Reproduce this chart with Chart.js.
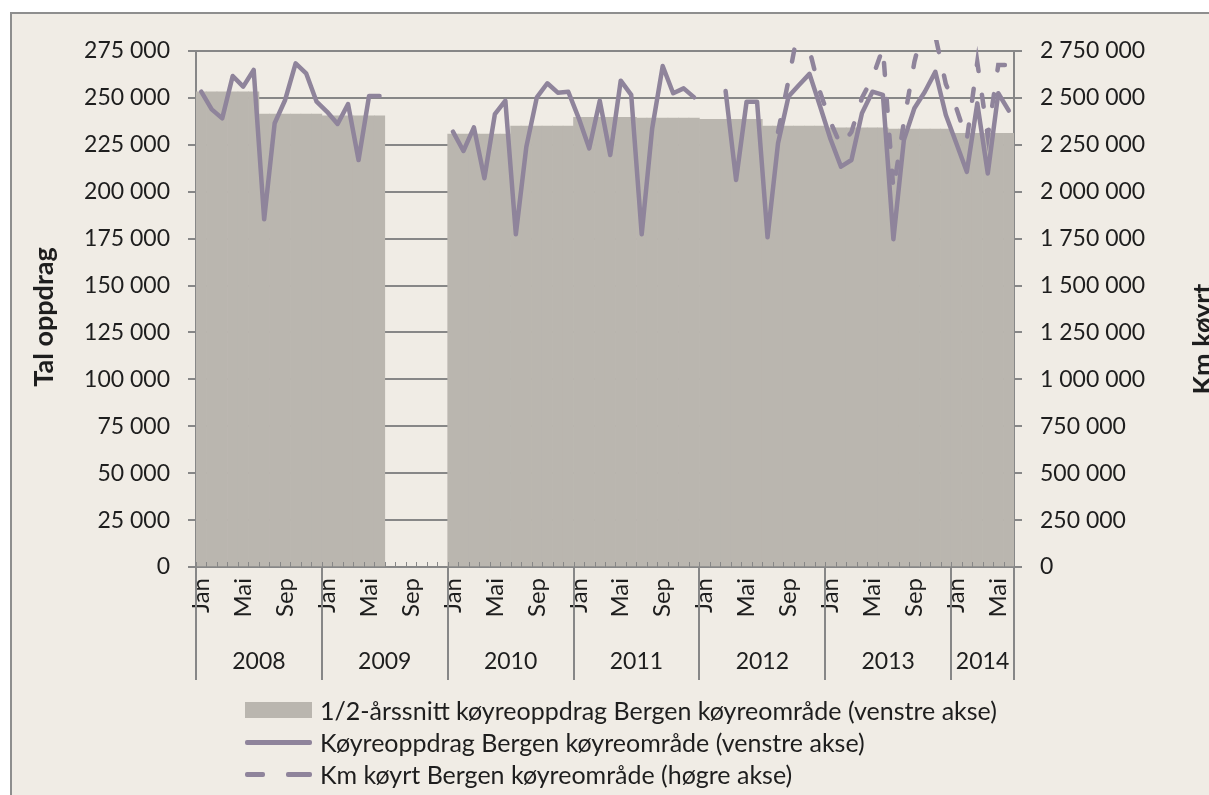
<!DOCTYPE html>
<html>
<head>
<meta charset="utf-8">
<title>Køyreoppdrag Bergen</title>
<script src="https://cdn.jsdelivr.net/npm/chart.js@4.4.1/dist/chart.umd.min.js"></script>
<style>
    html, body { margin: 0; padding: 0; background: #fff; width: 1209px; height: 795px; overflow: hidden; }
    #frame { position: absolute; left: 10px; top: 12px; width: 1300px; height: 900px; background: #f0ece5; border-left: 2px solid #8e8e8e; border-top: 2px solid #8e8e8e; }
    #wrap { position: absolute; left: 0; top: 0; width: 1240px; height: 800px; }
    .axisTitle { position: absolute; width: 180px; height: 32px; line-height: 32px; text-align: center;
        font: bold 27px Lato, sans-serif; color: #1e1e1e; transform: rotate(-90deg); white-space: nowrap; }
    #leftTitle { left: -48px; top: 301px; }
    #rightTitle { left: 1111px; top: 323px; }
    #legend { position: absolute; left: 245px; top: 694px; font: 25px Lato, sans-serif; color: #1e1e1e; }
    #legend .row { display: flex; align-items: center; height: 32px; white-space: nowrap; }
    #legend .sym { width: 67px; margin-right: 8px; display: flex; align-items: center; justify-content: space-between; }
</style>
</head>
<body>
<div id="frame"></div>
<div id="wrap"><canvas id="chart"></canvas></div>
<div id="leftTitle" class="axisTitle">Tal oppdrag</div>
<div id="rightTitle" class="axisTitle">Km køyrt</div>
<div id="legend"></div>

<script>
// Categories
const years = ['2008', '2009', '2010', '2011', '2012', '2013', '2014'];
const monthNames = ['Jan', 'Feb', 'Mar', 'Apr', 'Mai', 'Jun', 'Jul', 'Aug', 'Sep', 'Okt', 'Nov', 'Des'];
const monthsInYear = [12, 12, 12, 12, 12, 12, 6];
const shownMonths = ['Jan', 'Mai', 'Sep'];

// 1/2-årssnitt (same value for every month in the half year)
const halvaarssnitt = [
    253300, 253300, 253300, 253300, 253300, 253300, 241400, 241400, 241400, 241400, 241400, 241400,
    240400, 240400, 240400, 240400, 240400, 240400, null, null, null, null, null, null,
    230700, 230700, 230700, 230700, 230700, 230700, 235000, 235000, 235000, 235000, 235000, 235000,
    239700, 239700, 239700, 239700, 239700, 239700, 239200, 239200, 239200, 239200, 239200, 239200,
    238600, 238600, 238600, 238600, 238600, 238600, 235000, 235000, 235000, 235000, 235000, 235000,
    234000, 234000, 234000, 234000, 234000, 234000, 233400, 233400, 233400, 233400, 233400, 233400,
    231100, 231100, 231100, 231100, 231100, 231100
];

// Køyreoppdrag per månad (venstre akse)
const koyreoppdrag = [
    253300, 243900, 239100, 261700, 256000, 264900, 185300, 236500, 248900, 268400, 263100, 248000,
    242600, 236100, 246700, 216900, 251000, 251000, null, null, null, null, null, null,
    232000, 221700, 234300, 207200, 241400, 248500, 177300, 224000, 250300, 257800, 252800, 253300,
    239100, 223100, 248500, 219600, 259200, 251600, 177300, 233800, 267000, 252500, 255100, 250300,
    null, null, 253700, 206300, 248000, 248000, 175700, 225800, 250700, 256900, 262800, 245700,
    228100, 213400, 216900, 241800, 253300, 251600, 174700, 227500, 244500, 253300, 263900, 240900,
    225800, 210600, 247100, 209700, 252500, 243200
];

// Km køyrt per månad (høgre akse)
const kmKoyrt = [
    null, null, null, null, null, null, null, null, null, null, null, null,
    null, null, null, null, null, null, null, null, null, null, null, null,
    null, null, null, null, null, null, null, null, null, null, null, null,
    null, null, null, null, null, null, null, null, null, null, null, null,
    null, null, null, null, null, null, null, 2318000, 2595000, 2889000, 2755000, 2532000,
    2372000, 2244000, 2318000, 2500000, 2606000, 2766000, 2009000, 2372000, 2691000, 2915000, 2830000, 2574000,
    2446000, 2276000, 2691000, 2297000, 2675000, 2675000
];

const leftMax = 275000;
const leftStep = 25000;
const rightMax = 2750000;
const rightStep = 250000;

const categories = years.flatMap((y, i) => monthNames.slice(0, monthsInYear[i]).map(m => ({ year: y, month: m })));
const labels = categories.map(c => c.month + ' ' + c.year);

const gridColor = '#878787';
const textColor = '#1e1e1e';
const fontFamily = 'Lato, sans-serif';

function fmt(v) {
    return String(v).replace(/\B(?=(\d{3})+(?!\d))/g, ' ');
}

// Year row under the month labels, separators and small month ticks
const yearAxis = {
    id: 'yearAxis',
    afterDatasetsDraw(chart) {
        const { ctx, chartArea } = chart;
        const x = chart.scales.x;
        ctx.save();
        ctx.strokeStyle = gridColor;
        ctx.lineWidth = 1;
        for (let i = 0; i <= categories.length; i++) {
            const px = Math.round(x.getPixelForValue(i - 0.5)) + 0.5;
            ctx.beginPath();
            ctx.moveTo(px, chartArea.bottom);
            ctx.lineTo(px, chartArea.bottom - 5);
            ctx.stroke();
        }
        ctx.restore();
    },
    afterDraw(chart) {
        const { ctx, chartArea } = chart;
        const x = chart.scales.x;
        const bounds = [];
        categories.forEach((c, i) => { if (c.month === monthNames[0]) bounds.push(i); });
        bounds.push(categories.length);
        ctx.save();
        ctx.strokeStyle = gridColor;
        ctx.lineWidth = 2;
        bounds.forEach(i => {
            const px = Math.round(x.getPixelForValue(i - 0.5));
            ctx.beginPath();
            ctx.moveTo(px, chartArea.bottom);
            ctx.lineTo(px, chartArea.bottom + 113);
            ctx.stroke();
        });
        ctx.fillStyle = textColor;
        ctx.font = '23px ' + fontFamily;
        ctx.textAlign = 'center';
        ctx.textBaseline = 'middle';
        for (let k = 0; k < bounds.length - 1; k++) {
            const a = x.getPixelForValue(bounds[k] - 0.5);
            const b = x.getPixelForValue(bounds[k + 1] - 0.5);
            ctx.fillText(categories[bounds[k]].year, (a + b) / 2, chartArea.bottom + 95);
        }
        ctx.restore();
    }
};

const lineColor = '#8f849b';

const chart = new Chart(document.getElementById('chart'), {
    data: {
        labels: labels,
        datasets: [{
            type: 'bar',
            label: '1/2-årssnitt køyreoppdrag Bergen køyreområde (venstre akse)',
            data: halvaarssnitt,
            backgroundColor: '#bab6af',
            barPercentage: 1,
            categoryPercentage: 1,
            borderWidth: 0,
            yAxisID: 'y',
            order: 3
        }, {
            type: 'line',
            label: 'Køyreoppdrag Bergen køyreområde (venstre akse)',
            data: koyreoppdrag,
            borderColor: lineColor,
            borderWidth: 4.5,
            pointRadius: 0,
            tension: 0,
            spanGaps: false,
            borderJoinStyle: 'round',
            borderCapStyle: 'round',
            yAxisID: 'y',
            order: 2
        }, {
            type: 'line',
            label: 'Km køyrt Bergen køyreområde (høgre akse)',
            data: kmKoyrt,
            borderColor: lineColor,
            borderWidth: 4.5,
            borderDash: [12, 24],
            borderCapStyle: 'round',
            pointRadius: 0,
            tension: 0,
            spanGaps: false,
            yAxisID: 'y2',
            clip: { left: 0, top: 11, right: 0, bottom: 0 },
            order: 1
        }]
    },
    options: {
        responsive: true,
        maintainAspectRatio: false,
        animation: false,
        layout: { padding: { left: 0, top: 51, right: 26, bottom: 120 } },
        plugins: {
            legend: { display: false },
            tooltip: { enabled: false }
        },
        scales: {
            x: {
                type: 'category',
                offset: true,
                grid: { display: false, drawTicks: false },
                border: { display: true, color: gridColor, width: 2 },
                ticks: {
                    autoSkip: false,
                    minRotation: 90,
                    maxRotation: 90,
                    padding: 11,
                    color: textColor,
                    font: { family: fontFamily, size: 24 },
                    callback: (v, i) => shownMonths.includes(categories[i].month) ? categories[i].month : ''
                },
                afterFit: s => { s.height = 113; }
            },
            y: {
                position: 'left',
                min: 0,
                max: leftMax,
                grid: { color: gridColor, lineWidth: 2, tickLength: 8 },
                border: { display: true, color: gridColor, width: 2 },
                ticks: {
                    stepSize: leftStep,
                    padding: 18,
                    color: textColor,
                    font: { family: fontFamily, size: 23 },
                    callback: v => fmt(v)
                },
                afterFit: s => { s.width = 196; }
            },
            y2: {
                position: 'right',
                min: 0,
                max: rightMax,
                grid: { drawOnChartArea: false, color: gridColor, lineWidth: 2, tickLength: 8 },
                border: { display: true, color: gridColor, width: 2 },
                ticks: {
                    stepSize: rightStep,
                    padding: 18,
                    color: textColor,
                    font: { family: fontFamily, size: 23 },
                    callback: v => fmt(v)
                },
                afterFit: s => { s.width = 200; }
            }
        }
    },
    plugins: [yearAxis]
});

// Legend built from the datasets
function buildLegend(ch) {
    const box = document.getElementById('legend');
    ch.data.datasets.forEach(ds => {
        const row = document.createElement('div');
        row.className = 'row';
        const sym = document.createElement('div');
        sym.className = 'sym';
        if (ds.type === 'bar') {
            sym.innerHTML = `<span style="display:block;width:67px;height:16px;background:${ds.backgroundColor}"></span>`;
        } else if (ds.borderDash) {
            sym.innerHTML = `<span style="display:block;width:20px;height:5px;border-radius:2px;background:${ds.borderColor}"></span>` +
                `<span style="display:block;width:26px;height:5px;border-radius:2px;background:${ds.borderColor}"></span>`;
        } else {
            sym.innerHTML = `<span style="display:block;width:67px;height:5px;border-radius:2px;background:${ds.borderColor}"></span>`;
        }
        const txt = document.createElement('span');
        txt.textContent = ds.label;
        row.appendChild(sym);
        row.appendChild(txt);
        box.appendChild(row);
    });
}
buildLegend(chart);
</script>
</body>
</html>
